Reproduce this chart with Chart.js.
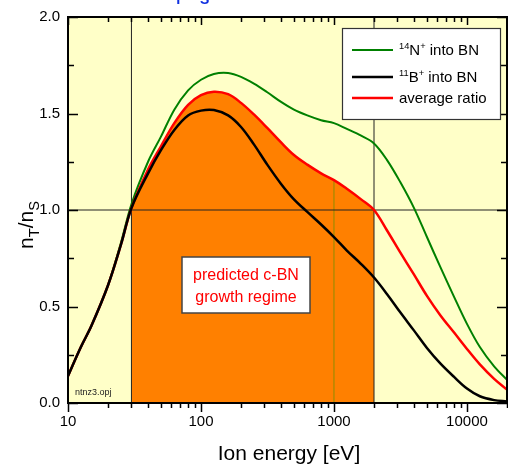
<!DOCTYPE html>
<html>
<head>
<meta charset="utf-8">
<script src="https://cdn.jsdelivr.net/npm/chart.js@4"></script>
<style>
  html, body { margin: 0; padding: 0; background: #fff; }
  #wrap { width: 508px; height: 469px; }
</style>
</head>
<body>
<div id="wrap"><canvas id="chart" width="508" height="469"></canvas></div>
<script>
// ion energy in eV (log axis)
const energy = [10, 12.5, 15, 20, 25, 30, 40, 50, 63, 80, 100, 125, 160, 200, 250, 315, 400, 500, 630, 800,
                1000, 1250, 1600, 2000, 2500, 3150, 4000, 5000, 6300, 8000, 10000, 12500, 16000, 20000];

// n_T / n_S for each ion
const nitrogen = [0.14, 0.29, 0.40, 0.61, 0.83, 1.03, 1.25, 1.38, 1.52, 1.62, 1.675, 1.705, 1.71, 1.69, 1.655, 1.61, 1.56, 1.52, 1.49, 1.465,
                  1.45, 1.42, 1.385, 1.345, 1.26, 1.145, 1.01, 0.86, 0.705, 0.55, 0.41, 0.29, 0.19, 0.12];
const boron    = [0.14, 0.29, 0.40, 0.61, 0.82, 1.01, 1.19, 1.31, 1.415, 1.49, 1.515, 1.518, 1.49, 1.43, 1.34, 1.235, 1.135, 1.055, 0.99, 0.925,
                  0.86, 0.79, 0.72, 0.65, 0.565, 0.47, 0.375, 0.285, 0.205, 0.135, 0.075, 0.035, 0.015, 0.008];
const average  = [0.14, 0.29, 0.40, 0.61, 0.82, 1.01, 1.21, 1.33, 1.45, 1.545, 1.595, 1.613, 1.60, 1.555, 1.495, 1.425, 1.35, 1.285, 1.235, 1.19,
                  1.155, 1.11, 1.055, 1.00, 0.895, 0.78, 0.665, 0.555, 0.455, 0.365, 0.28, 0.20, 0.125, 0.07];

// c-BN growth window and reference lines
const regimeBounds = [30, 2000];
const markerEnergy = 1000;
const thresholdRatio = 1.0;

// axis ticks
const yTicks = [0, 0.5, 1.0, 1.5, 2.0];
const xMajor = [10, 100, 1000, 10000];
const xMinor = [20, 30, 40, 50, 60, 70, 80, 90, 200, 300, 400, 500, 600, 700, 800, 900,
                2000, 3000, 4000, 5000, 6000, 7000, 8000, 9000, 20000];

const FONT = 'Arial, "Liberation Sans", sans-serif';
const TENSION = 0.35;

function pts(ys) {
  return energy.map((e, i) => ({ x: e, y: ys[i] }));
}

const regimePts = energy
  .map((e, i) => ({ x: e, y: average[i] }))
  .filter(p => p.x >= regimeBounds[0] && p.x <= regimeBounds[1]);

const markerTop = average[energy.indexOf(markerEnergy)];

// draw text with superscript / subscript parts: [[text, 'n'|'sup'|'sub'], ...]
function richText(ctx, parts, x, y, size, color) {
  ctx.fillStyle = color;
  ctx.textBaseline = 'alphabetic';
  ctx.textAlign = 'left';
  parts.forEach(([t, kind]) => {
    let s = size, dy = 0;
    if (kind === 'sup') { s = size * 0.62; dy = -size * 0.42; }
    if (kind === 'sub') { s = size * 0.7; dy = size * 0.3; }
    ctx.font = s + 'px ' + FONT;
    ctx.fillText(t, x, y + dy);
    x += ctx.measureText(t).width;
  });
}

const decorations = {
  id: 'decorations',
  beforeDraw(chart) {
    const { ctx, chartArea: a } = chart;
    ctx.save();
    ctx.fillStyle = '#FFFFC8';
    ctx.fillRect(a.left, a.top, a.right - a.left, a.bottom - a.top);
    ctx.restore();
  },
  afterDraw(chart) {
    const { ctx, chartArea: a, scales } = chart;
    const xs = scales.x, ys = scales.y;
    ctx.save();

    // ticks
    ctx.strokeStyle = '#000';
    ctx.lineWidth = 1.5;
    ctx.beginPath();
    xMajor.concat(xMinor).forEach(v => {
      const px = Math.round(xs.getPixelForValue(v)) + 0.5;
      const major = xMajor.includes(v);
      ctx.moveTo(px, a.bottom); ctx.lineTo(px, a.bottom + (major ? 9 : 5));
      ctx.moveTo(px, a.top); ctx.lineTo(px, a.top + (major ? 8 : 5));
    });
    for (let v = 0; v <= 2.0001; v += 0.25) {
      const py = Math.round(ys.getPixelForValue(v)) + 0.5;
      const major = Math.abs(v * 2 - Math.round(v * 2)) < 1e-6;
      ctx.moveTo(a.left, py); ctx.lineTo(a.left + (major ? 10 : 6), py);
      ctx.moveTo(a.right, py); ctx.lineTo(a.right - (major ? 10 : 6), py);
    }
    ctx.stroke();

    // frame
    ctx.lineWidth = 2;
    ctx.strokeRect(a.left, a.top, a.right - a.left, a.bottom - a.top);

    // legend box
    const lx = 342, ly = 28, lw = 158, lh = 91;
    ctx.fillStyle = '#fff';
    ctx.fillRect(lx, ly, lw, lh);
    ctx.lineWidth = 1.2;
    ctx.strokeStyle = '#333';
    ctx.strokeRect(lx + 0.5, ly + 0.5, lw, lh);
    const rows = [
      { c: '#008000', y: 50, w: 2, parts: [['14', 'sup'], ['N', 'n'], ['+', 'sup'], [' into BN', 'n']] },
      { c: '#000000', y: 77, w: 2.5, parts: [['11', 'sup'], ['B', 'n'], ['+', 'sup'], [' into BN', 'n']] },
      { c: '#FF0000', y: 98, w: 2.5, parts: [['average ratio', 'n']] }
    ];
    rows.forEach(r => {
      ctx.strokeStyle = r.c;
      ctx.lineWidth = r.w;
      ctx.beginPath();
      ctx.moveTo(352, r.y); ctx.lineTo(393, r.y);
      ctx.stroke();
      richText(ctx, r.parts, 399, r.y + 5, 15, '#000');
    });

    // regime label
    ctx.fillStyle = '#fff';
    ctx.fillRect(182, 257, 128, 56);
    ctx.strokeStyle = '#444';
    ctx.lineWidth = 1.5;
    ctx.strokeRect(182, 257, 128, 56);
    ctx.fillStyle = '#FF0000';
    ctx.font = '16px ' + FONT;
    ctx.textAlign = 'center';
    ctx.fillText('predicted c-BN', 246, 280);
    ctx.fillText('growth regime', 246, 302);

    // file tag
    ctx.fillStyle = '#222';
    ctx.font = '9px ' + FONT;
    ctx.textAlign = 'left';
    ctx.fillText('ntnz3.opj', 75, 395);

    // axis title x
    ctx.font = '21px ' + FONT;
    ctx.textAlign = 'center';
    ctx.fillStyle = '#000';
    ctx.fillText('Ion energy [eV]', 289, 460);

    // axis title y (rotated)
    ctx.save();
    ctx.translate(33, 249);
    ctx.rotate(-Math.PI / 2);
    richText(ctx, [['n', 'n'], ['T', 'sub'], ['/n', 'n'], ['S', 'sub']], 0, 0, 21, '#000');
    ctx.restore();

    // cut-off blue title at the very top
    ctx.fillStyle = '#1030E0';
    ctx.textAlign = 'left';
    ctx.font = 'bold 22px ' + FONT;
    ctx.fillText('n', 163, -6);
    ctx.font = 'bold 14px ' + FONT;
    ctx.fillText('T', 174, 4);
    ctx.font = 'bold 22px ' + FONT;
    ctx.fillText('/n', 184, -6);
    ctx.font = 'bold 14px ' + FONT;
    ctx.fillText('S', 200, 4);

    ctx.restore();
  }
};

const ctx = document.getElementById('chart').getContext('2d');
new Chart(ctx, {
  type: 'line',
  data: {
    datasets: [
      {
        label: 'regime',
        data: regimePts,
        borderWidth: 0,
        borderColor: 'rgba(0,0,0,0)',
        backgroundColor: '#FF8000',
        fill: 'origin',
        pointRadius: 0,
        tension: TENSION,
        order: 10
      },
      {
        label: 'bounds-lo',
        data: [{ x: regimeBounds[0], y: 0 }, { x: regimeBounds[0], y: 2 }],
        borderColor: '#222', borderWidth: 1, pointRadius: 0, fill: false, order: 5
      },
      {
        label: 'bounds-hi',
        data: [{ x: regimeBounds[1], y: 0 }, { x: regimeBounds[1], y: 2 }],
        borderColor: '#222', borderWidth: 1, pointRadius: 0, fill: false, order: 5
      },
      {
        label: 'threshold',
        data: [{ x: 10, y: thresholdRatio }, { x: 20000, y: thresholdRatio }],
        borderColor: '#222', borderWidth: 1, pointRadius: 0, fill: false, order: 5
      },
      {
        label: 'marker',
        data: [{ x: markerEnergy, y: 0 }, { x: markerEnergy, y: markerTop }],
        borderColor: '#8C8C00', borderWidth: 1, pointRadius: 0, fill: false, order: 5
      },
      {
        label: '14N+ into BN',
        data: pts(nitrogen),
        borderColor: '#008000', borderWidth: 2, pointRadius: 0, fill: false,
        tension: TENSION, order: 2
      },
      {
        label: 'average ratio',
        data: pts(average),
        borderColor: '#FF0000', borderWidth: 2.5, pointRadius: 0, fill: false,
        tension: TENSION, order: 1
      },
      {
        label: '11B+ into BN',
        data: pts(boron),
        borderColor: '#000000', borderWidth: 2.5, pointRadius: 0, fill: false,
        tension: TENSION, order: 0
      }
    ]
  },
  options: {
    responsive: false,
    animation: false,
    layout: { padding: { top: 17, right: 1, left: 0, bottom: 0 } },
    plugins: { legend: { display: false }, tooltip: { enabled: false } },
    scales: {
      x: {
        type: 'logarithmic',
        min: 10,
        max: 20000,
        grid: { display: false, drawTicks: false },
        border: { display: false },
        ticks: {
          autoSkip: false,
          maxRotation: 0,
          padding: 10,
          color: '#000',
          font: { size: 15, family: FONT },
          callback: v => (xMajor.includes(v) ? String(v) : '')
        },
        afterFit: s => { s.height = 66; s.paddingLeft = 0; s.paddingRight = 0; }
      },
      y: {
        min: 0,
        max: 2,
        grid: { display: false, drawTicks: false },
        border: { display: false },
        afterBuildTicks: s => { s.ticks = yTicks.map(v => ({ value: v })); },
        ticks: {
          padding: 8,
          color: '#000',
          font: { size: 15, family: FONT },
          callback: v => v.toFixed(1)
        },
        afterFit: s => { s.width = 68; s.paddingTop = 0; s.paddingBottom = 0; }
      }
    }
  },
  plugins: [decorations]
});
</script>
</body>
</html>
